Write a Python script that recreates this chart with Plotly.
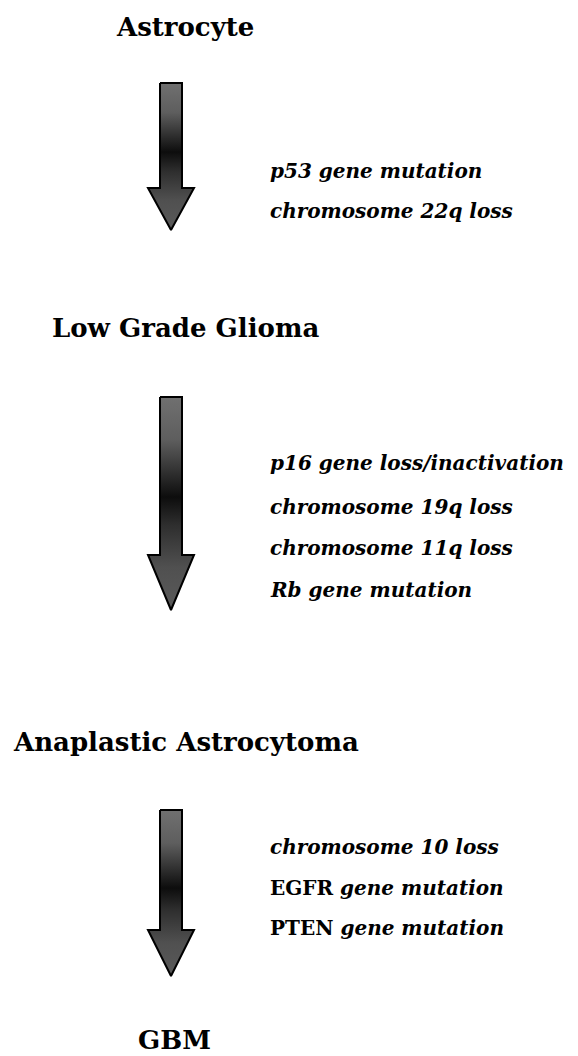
import plotly.graph_objects as go

# Stage labels (top to bottom) and their positions (pixel space)
stages = ["Astrocyte", "Low Grade Glioma", "Anaplastic Astrocytoma", "GBM"]
stage_x = [185, 185, 186, 174]
stage_y = [27, 328, 742, 1040]

# Arrow geometry per transition: shaft top, head base, tip
arrow_top = [83, 397, 810]
arrow_head = [188, 555, 930]
arrow_tip = [230, 610, 976]
arrow_cx = 171
shaft_half = 11
head_half = 23

# Genetic changes per transition
changes = [
    ["<i>p53 gene mutation</i>", "<i>chromosome 22q loss</i>"],
    ["<i>p16 gene loss/inactivation</i>", "<i>chromosome 19q loss</i>",
     "<i>chromosome 11q loss</i>", "<i>Rb gene mutation</i>"],
    ["<i>chromosome 10 loss</i>", "EGFR <i>gene mutation</i>", "PTEN <i>gene mutation</i>"],
]
change_y = [
    [171, 211],
    [463, 507, 548, 590],
    [847, 888, 928],
]
change_x = 268

# The page body adds an 8px offset; shrink the figure and shift ranges to compensate
OFF = 8
W, H = 578, 1056

fig = go.Figure()

for t, hb, tip in zip(arrow_top, arrow_head, arrow_tip):
    xs = [arrow_cx - shaft_half, arrow_cx + shaft_half, arrow_cx + shaft_half,
          arrow_cx + head_half, arrow_cx, arrow_cx - head_half,
          arrow_cx - shaft_half, arrow_cx - shaft_half]
    ys = [t, t, hb, hb, tip, hb, hb, t]
    fig.add_trace(go.Scatter(
        x=xs, y=ys, mode="lines", fill="toself",
        line=dict(color="black", width=2),
        fillgradient=dict(
            type="vertical",
            start=t, stop=tip,
            colorscale=[[0, "#707070"], [0.2, "#5e5e5e"], [0.47, "#0d0d0d"],
                        [0.6, "#2e2e2e"], [0.8, "#505050"], [1, "#5a5a5a"]],
        ),
        hoverinfo="skip", showlegend=False,
    ))

font_stage = dict(family="DejaVu Serif", size=26, color="black")
for s, x, y in zip(stages, stage_x, stage_y):
    fig.add_annotation(x=x, y=y, text="<b>" + s + "</b>", showarrow=False,
                       xanchor="center", yanchor="middle", font=font_stage)

font_change = dict(family="DejaVu Serif", size=20, color="black")
for lines, ys in zip(changes, change_y):
    for txt, y in zip(lines, ys):
        fig.add_annotation(x=change_x, y=y, text="<b>" + txt + "</b>", showarrow=False,
                           xanchor="left", yanchor="middle", font=font_change)

fig.update_layout(
    width=W - OFF, height=H - OFF,
    margin=dict(l=0, r=0, t=0, b=0),
    paper_bgcolor="white", plot_bgcolor="white",
    xaxis=dict(range=[OFF, W], visible=False, fixedrange=True),
    yaxis=dict(range=[H, OFF], visible=False, fixedrange=True),
    showlegend=False,
)

fig.write_html("out.html")
